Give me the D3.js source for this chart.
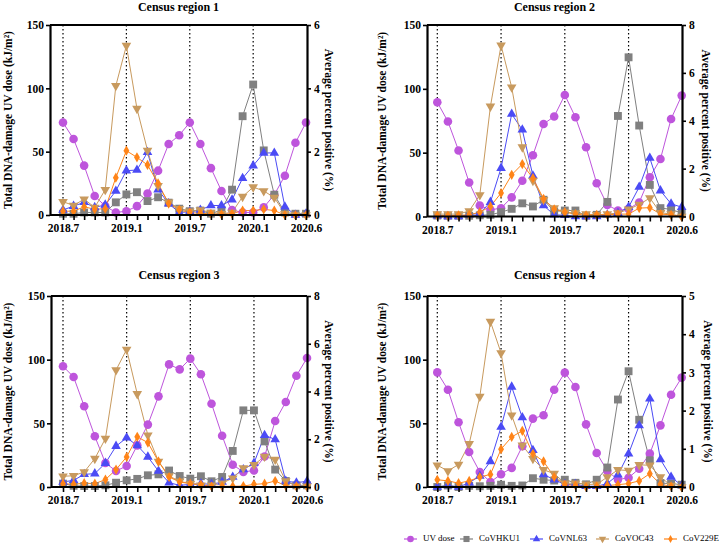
<!DOCTYPE html>
<html><head><meta charset="utf-8">
<script src="https://cdn.jsdelivr.net/npm/d3@7"></script>
<style>
html,body{margin:0;padding:0;background:#fff;}
svg{display:block;}
text{font-family:"Liberation Serif","Times New Roman",serif;}
</style></head>
<body>
<svg id="chart" width="720" height="546"></svg>
<script>
// ---------- DATA ----------
const months = ["2018.7","2018.8","2018.9","2018.10","2018.11","2018.12","2019.1","2019.2","2019.3","2019.4","2019.5","2019.6",
                "2019.7","2019.8","2019.9","2019.10","2019.11","2019.12","2020.1","2020.2","2020.3","2020.4","2020.5","2020.6"];
const tickLabels = ["2018.7","2019.1","2019.7","2020.1","2020.6"];
const dottedMonths = ["2018.7","2019.1","2019.7","2020.1"];
const regionTitles = ["Census region 1","Census region 2","Census region 3","Census region 4"];
const uvTicks = [0,50,100,150];
const rightMax = [6,8,8,5];
const seriesNames = ["UV dose","CoVHKU1","CoVNL63","CoVOC43","CoV229E"];

// UV dose (kJ/m²)
const uvR1 = [73,60,39,15,7,2,3,7,17,35,56,63,73,56,37,19,4,2,2,6,16,31,57,73];
const uvR2 = [89.5,74.4,51.7,26.6,8.6,5.2,6.5,15,28,48,72.5,78.3,95.2,77.7,54.3,26,9,4.7,6,11,30.8,45,76.4,94.7];
const uvR3 = [94.8,86.4,63.4,39.8,18.8,12.6,16.5,32.7,49,71.2,96.3,92.4,100.8,88.5,65.4,40.3,17.5,11.8,13,24,51.8,66.8,87.4,101.3];
const uvR4 = [90,76.4,50.8,27.5,11.8,3.9,10,15,32,53.7,56.3,76.4,89.8,78.5,49.2,26.7,12.6,5.8,7.3,14.4,26.2,48.4,72.5,85.9];

// Average percent positive (%)
const hku1R1 = [0.04,0.04,0.08,0.08,0.08,0.4,0.65,0.72,0.44,0.56,0.39,0.2,0.12,0.14,0.04,0.16,0.8,3.12,4.12,2.04,0.64,0.08,0.04,0.04];
const nl63R1 = [0.16,0.28,0.4,0.24,0.32,0.76,1.4,1.42,1.98,0.8,0.36,0.08,0.1,0.16,0.3,0.3,0.48,1.16,1.56,1.96,1.96,0.26,0,0.04];
const oc43R1 = [0.42,0.3,0.5,0.24,0.8,4.08,5.35,3.36,2.04,0.92,0.4,0.2,0.12,0.16,0.08,0.04,0.08,0.58,0.88,0.76,0.55,0.04,0,0];
const e229R1 = [0.12,0.12,0.26,0.18,0.2,1.18,2.03,1.82,1.58,1.0,0.36,0.16,0.08,0.05,0.04,0.02,0.04,0.14,0.14,0.18,0.14,0,0,0];

const hku1R2 = [0.04,0.03,0.03,0.03,0.05,0.07,0.18,0.32,0.55,0.42,0.7,0.21,0.25,0.25,0.03,0.07,0.61,4.2,6.65,3.8,1.32,0.35,0.3,0.14];
const nl63R2 = [0.03,0,0,0.07,0.14,0.6,2.02,4.28,3.62,1.7,0.46,0.07,0.05,0,0,0,0.07,0.14,0.39,1.23,2.44,1.08,0.53,0.39];
const oc43R2 = [0.1,0.1,0.1,0.23,0.9,4.6,7.15,5.4,2.9,1.5,0.7,0.35,0.18,0.14,0.1,0.07,0.1,0.14,0.3,0.5,0.77,0.16,0.1,0];
const e229R2 = [0.04,0.03,0.05,0.07,0.18,0.42,0.98,1.74,2.19,1.6,0.74,0.3,0.18,0.1,0.05,0.07,0.07,0.1,0.1,0.35,0.37,0.1,0.07,0];

const hku1R3 = [0.14,0.05,0.04,0.04,0.07,0.18,0.28,0.34,0.49,0.53,0.69,0.46,0.35,0.45,0.24,0.42,1.51,3.21,3.21,1.91,0.73,0.25,0.07,0.07];
const nl63R3 = [0.21,0.28,0.53,0.56,1.0,1.71,2.06,1.74,1.26,0.67,0.18,0.07,0.11,0.14,0.11,0.21,0.42,0.73,1.0,2.17,1.99,0.25,0.18,0.24];
const oc43R3 = [0.45,0.47,0.63,1.19,2.03,4.9,5.76,3.9,2.17,1.07,0.46,0.24,0.14,0.07,0.07,0.16,0.37,0.8,0.93,1.28,1.15,0.25,0.03,0.03];
const e229R3 = [0.14,0.11,0.16,0.14,0.31,0.73,1.26,2.1,1.86,1.07,0.42,0.21,0.14,0.1,0.03,0.03,0.03,0.04,0.11,0.14,0.25,0.05,0.03,0.02];

const hku1R4 = [0,0.04,0,0.03,0.02,0.03,0.06,0.03,0.04,0.23,0.19,0.17,0.19,0.11,0.07,0.19,0.51,2.29,3.03,1.76,0.7,0.1,0.09,0.06];
const nl63R4 = [0,0.04,0,0.11,0.29,0.67,1.57,2.62,1.82,0.96,0.33,0.19,0.07,0.07,0.02,0.02,0.09,0.32,0.87,1.61,2.31,0.72,0.26,0.04];
const oc43R4 = [0.57,0.42,0.59,1.13,2.37,4.33,3.51,1.88,1.09,0.74,0.45,0.35,0.1,0.1,0.07,0.07,0.26,0.45,0.43,0.58,0.57,0.26,0.04,0];
const e229R4 = [0.19,0.16,0.1,0.16,0.26,0.33,0.99,1.31,1.47,0.87,0.67,0.26,0.06,0.04,0,0.02,0.04,0.06,0.09,0.16,0.35,0.07,0.02,0];

// ---------- STYLE / LAYOUT ----------
const colors = {"UV dose":"#BE55DC","CoVHKU1":"#808080","CoVNL63":"#4B4BF5","CoVOC43":"#C89A5E","CoV229E":"#FF8418"};
const triDown = {draw(ctx,size){const s=Math.sqrt(size/ (Math.sqrt(3)/4)); const h=s*Math.sqrt(3)/2;
  ctx.moveTo(-s/2,-h/3); ctx.lineTo(s/2,-h/3); ctx.lineTo(0,2*h/3); ctx.closePath();}};
const triUp = {draw(ctx,size){const s=Math.sqrt(size/ (Math.sqrt(3)/4)); const h=s*Math.sqrt(3)/2;
  ctx.moveTo(-s/2,h/3); ctx.lineTo(s/2,h/3); ctx.lineTo(0,-2*h/3); ctx.closePath();}};
const symbols = {"UV dose":[d3.symbolCircle,58],"CoVHKU1":[d3.symbolSquare,62],"CoVNL63":[triUp,40],"CoVOC43":[triDown,40],"CoV229E":[d3.symbolDiamond,30]};

const panels = [
  {left:50, right:307, top:25, bottom:215, first:63, last:306, titleY:11, lTitleX:9, rTitleX:328},
  {left:427, right:682, top:25, bottom:216.5, first:437.3, last:681.7, titleY:11, lTitleX:383, rTitleX:705},
  {left:51, right:307, top:296, bottom:487, first:63, last:307, titleY:279, lTitleX:9, rTitleX:328},
  {left:427, right:682, top:296, bottom:487, first:437.3, last:681.7, titleY:279, lTitleX:383, rTitleX:707}
];
const regionData = [
  {uv:uvR1, s:[hku1R1,nl63R1,oc43R1,e229R1]},
  {uv:uvR2, s:[hku1R2,nl63R2,oc43R2,e229R2]},
  {uv:uvR3, s:[hku1R3,nl63R3,oc43R3,e229R3]},
  {uv:uvR4, s:[hku1R4,nl63R4,oc43R4,e229R4]}
];

const svg = d3.select("#chart");
const FONT = '"Liberation Serif","Times New Roman",serif';

panels.forEach((p,pi)=>{
  const g = svg.append("g");
  const x = d3.scalePoint().domain(months).range([p.first,p.last]);
  const yL = d3.scaleLinear().domain([0,150]).range([p.bottom,p.top]);
  const yR = d3.scaleLinear().domain([0,rightMax[pi]]).range([p.bottom,p.top]);

  g.append("text").attr("x",(p.left+p.right)/2).attr("y",p.titleY).attr("text-anchor","middle")
    .attr("font-size",12).attr("font-weight","bold").text(regionTitles[pi]);

  g.selectAll(".dot").data(dottedMonths).enter().append("line")
    .attr("x1",d=>x(d)).attr("x2",d=>x(d)).attr("y1",p.top).attr("y2",p.bottom)
    .attr("stroke","#000").attr("stroke-width",1.2).attr("stroke-dasharray","1.5,2.5");

  const rd = regionData[pi];
  const all = [{name:"UV dose", vals:rd.uv, y:yL}].concat(
    rd.s.map((v,i)=>({name:seriesNames[i+1], vals:v, y:yR})));
  all.forEach(s=>{
    const line = d3.line().x((d,i)=>x(months[i])).y(d=>s.y(d));
    g.append("path").attr("d",line(s.vals)).attr("fill","none")
      .attr("stroke",colors[s.name]).attr("stroke-width",1);
  });
  all.forEach(s=>{
    const sym = d3.symbol().type(symbols[s.name][0]).size(symbols[s.name][1]);
    g.selectAll(null).data(s.vals).enter().append("path")
      .attr("transform",(d,i)=>`translate(${x(months[i])},${s.y(d)})`)
      .attr("d",sym).attr("fill",colors[s.name]);
  });

  g.append("line").attr("x1",p.left).attr("x2",p.right).attr("y1",p.top).attr("y2",p.top)
    .attr("stroke","#000").attr("stroke-width",2);

  const axL = g.append("g").attr("transform",`translate(${p.left},0)`)
    .call(d3.axisLeft(yL).tickValues(uvTicks).tickFormat(d3.format("d")).tickSize(4).tickPadding(2).tickSizeOuter(0));
  const axR = g.append("g").attr("transform",`translate(${p.right},0)`)
    .call(d3.axisRight(yR).tickValues(d3.range(0,rightMax[pi]+1, rightMax[pi]===5?1:2))
      .tickFormat(d3.format("d")).tickSize(4).tickPadding(3).tickSizeOuter(0));
  const axB = g.append("g").attr("transform",`translate(0,${p.bottom})`)
    .call(d3.axisBottom(x).tickSize(5).tickPadding(4).tickSizeOuter(0)
      .tickFormat(d=>tickLabels.includes(d)?d:""));
  [axL,axR,axB].forEach(a=>{
    a.attr("font-family",FONT);
    a.select(".domain").attr("stroke-width",2.2).attr("stroke","#000");
    a.selectAll(".tick line").attr("stroke-width",1.6).attr("stroke","#000");
    a.selectAll("text").attr("font-size",11.5).attr("font-weight","bold").attr("fill","#000")
      .style("font-family",FONT);
  });
  axB.select(".domain").attr("d",`M${p.left},0H${p.right}`);

  g.append("text").attr("transform",`translate(${p.lTitleX},${(p.top+p.bottom)/2}) rotate(-90)`)
    .attr("text-anchor","middle").attr("dominant-baseline","middle")
    .attr("font-size",11.5).attr("font-weight","bold").text("Total DNA-damage UV dose (kJ/m²)");
  g.append("text").attr("transform",`translate(${p.rTitleX},${(p.top+p.bottom)/2}) rotate(90)`)
    .attr("text-anchor","middle").attr("dominant-baseline","middle")
    .attr("font-size",11.5).attr("font-weight","bold").text("Average percent positive (%)");
});

// legend
const legendX = [404, 460, 530, 596, 664];
const lg = svg.append("g").attr("transform","translate(0,539)");
seriesNames.forEach((n,i)=>{
  const gx = legendX[i];
  lg.append("line").attr("x1",gx).attr("x2",gx+13).attr("y1",0).attr("y2",0)
    .attr("stroke",colors[n]).attr("stroke-width",1.2);
  lg.append("path").attr("transform",`translate(${gx+6.5},0)`)
    .attr("d",d3.symbol().type(symbols[n][0]).size(symbols[n][1]*0.6)).attr("fill",colors[n]);
  lg.append("text").attr("x",gx+19).attr("y",0).attr("dominant-baseline","middle")
    .attr("font-size",9).style("font-family",FONT).text(n);
});
</script>
</body></html>
